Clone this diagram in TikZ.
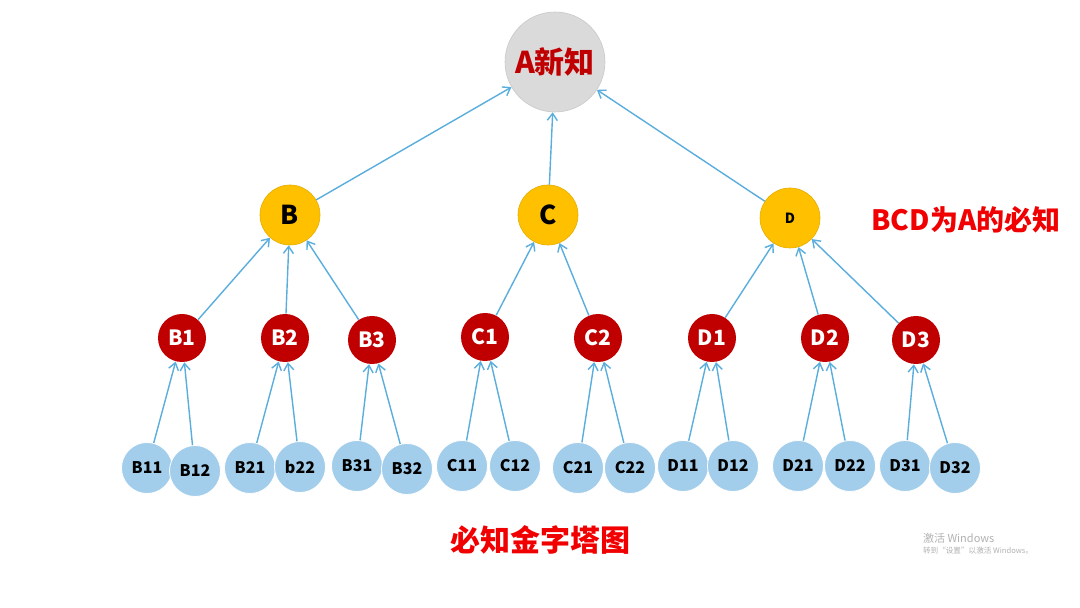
\documentclass[tikz,border=0pt]{standalone}
\usepackage{fontspec}
\setmainfont{Noto Sans CJK SC}
\usetikzlibrary{positioning,arrows.meta}
\definecolor{agray}{HTML}{DADADA}
\definecolor{gold}{HTML}{FFC000}
\definecolor{darkred}{HTML}{C00000}
\definecolor{leafblue}{HTML}{A2CDEB}
\definecolor{linkblue}{HTML}{5AAEDD}
\definecolor{titlered}{HTML}{F00000}

\begin{document}
\begin{tikzpicture}[x=0.5pt,y=-0.5pt,
    top node/.style={circle,fill=agray,draw=agray!92!black,line width=0.3pt,inner sep=0pt,minimum size=50pt,
                     text=darkred,font=\fontsize{15}{15}\selectfont\bfseries},
    gold node/.style={circle,fill=gold,draw=gold!90!black,line width=0.3pt,inner sep=0pt,minimum size=30pt,
                      font=\fontsize{13}{13}\selectfont\bfseries},
    red node/.style={circle,fill=darkred,inner sep=0pt,minimum size=24pt,text=white,
                     font=\fontsize{10.5}{10.5}\selectfont\bfseries},
    leaf node/.style={circle,fill=leafblue,draw=white,line width=0.4pt,inner sep=0pt,minimum size=25.5pt,
                      font=\fontsize{8}{8}\selectfont\bfseries},
    link/.style={draw=linkblue,line width=0.7pt,-{Straight Barb[length=3.5pt,width=5pt]}}
  ]
  \useasboundingbox (0,0) rectangle (1080,608);
  \fill[white] (0,0) rectangle (1080,608);

  % top
  \node[top node] (a) at (555,62) {A新知};
  % second level
  \node[gold node] (b) at (290,215) {B};
  \node[gold node] (c) at (548,215) {C};
  \node[gold node,font=\fontsize{7}{7}\selectfont\bfseries] (d) at (790,218) {D};
  % third level
  \node[red node] (b1) at (182,338) {B1};
  \node[red node] (b2) at (285,338) {B2};
  \node[red node] (b3) at (372,340) {B3};
  \node[red node] (c1) at (485,337) {C1};
  \node[red node] (c2) at (598,338) {C2};
  \node[red node] (d1) at (712,338) {D1};
  \node[red node] (d2) at (825,338) {D2};
  \node[red node] (d3) at (916,340) {D3};
  % leaves
  \node[leaf node] (b11) at (147,468) {B11};
  \node[leaf node] (b12) at (195,471) {B12};
  \node[leaf node] (b21) at (250,468) {B21};
  \node[leaf node] (b22) at (300,467) {b22};
  \node[leaf node] (b31) at (357,466) {B31};
  \node[leaf node] (b32) at (407,469) {B32};
  \node[leaf node] (c11) at (462,466) {C11};
  \node[leaf node] (c12) at (515,466) {C12};
  \node[leaf node] (c21) at (578,468) {C21};
  \node[leaf node] (c22) at (630,468) {C22};
  \node[leaf node] (d11) at (683,466) {D11};
  \node[leaf node] (d12) at (733,466) {D12};
  \node[leaf node] (d21) at (798,466) {D21};
  \node[leaf node] (d22) at (850,466) {D22};
  \node[leaf node] (d31) at (905,466) {D31};
  \node[leaf node] (d32) at (955,468) {D32};

  % texts
  \node[text=titlered,font=\fontsize{14}{14}\selectfont\bfseries] (note) at (966,220) {BCD为A的必知};
  \node[text=titlered,font=\fontsize{15}{15}\selectfont\bfseries] (title) at (540,540) {必知金字塔图};
  \node[text=black!30,font=\fontsize{5.5}{5.5}\selectfont,anchor=west] (wm1) at (916,538) {激活 Windows};
  \node[text=black!30,font=\fontsize{3.8}{3.8}\selectfont,anchor=west] (wm2) at (916,551) {转到“设置”以激活 Windows。};

  \path[link]
    (b) edge (a)
    (c) edge (a)
    (d) edge (a)
    (b1) edge (b)
    (b2) edge (b)
    (b3) edge (b)
    (c1) edge (c)
    (c2) edge (c)
    (d1) edge (d)
    (d2) edge (d)
    (d3) edge (d)
    (b11) edge (b1)
    (b12) edge (b1)
    (b21) edge (b2)
    (b22) edge (b2)
    (b31) edge (b3)
    (b32) edge (b3)
    (c11) edge (c1)
    (c12) edge (c1)
    (c21) edge (c2)
    (c22) edge (c2)
    (d11) edge (d1)
    (d12) edge (d1)
    (d21) edge (d2)
    (d22) edge (d2)
    (d31) edge (d3)
    (d32) edge (d3);
\end{tikzpicture}
\end{document}
